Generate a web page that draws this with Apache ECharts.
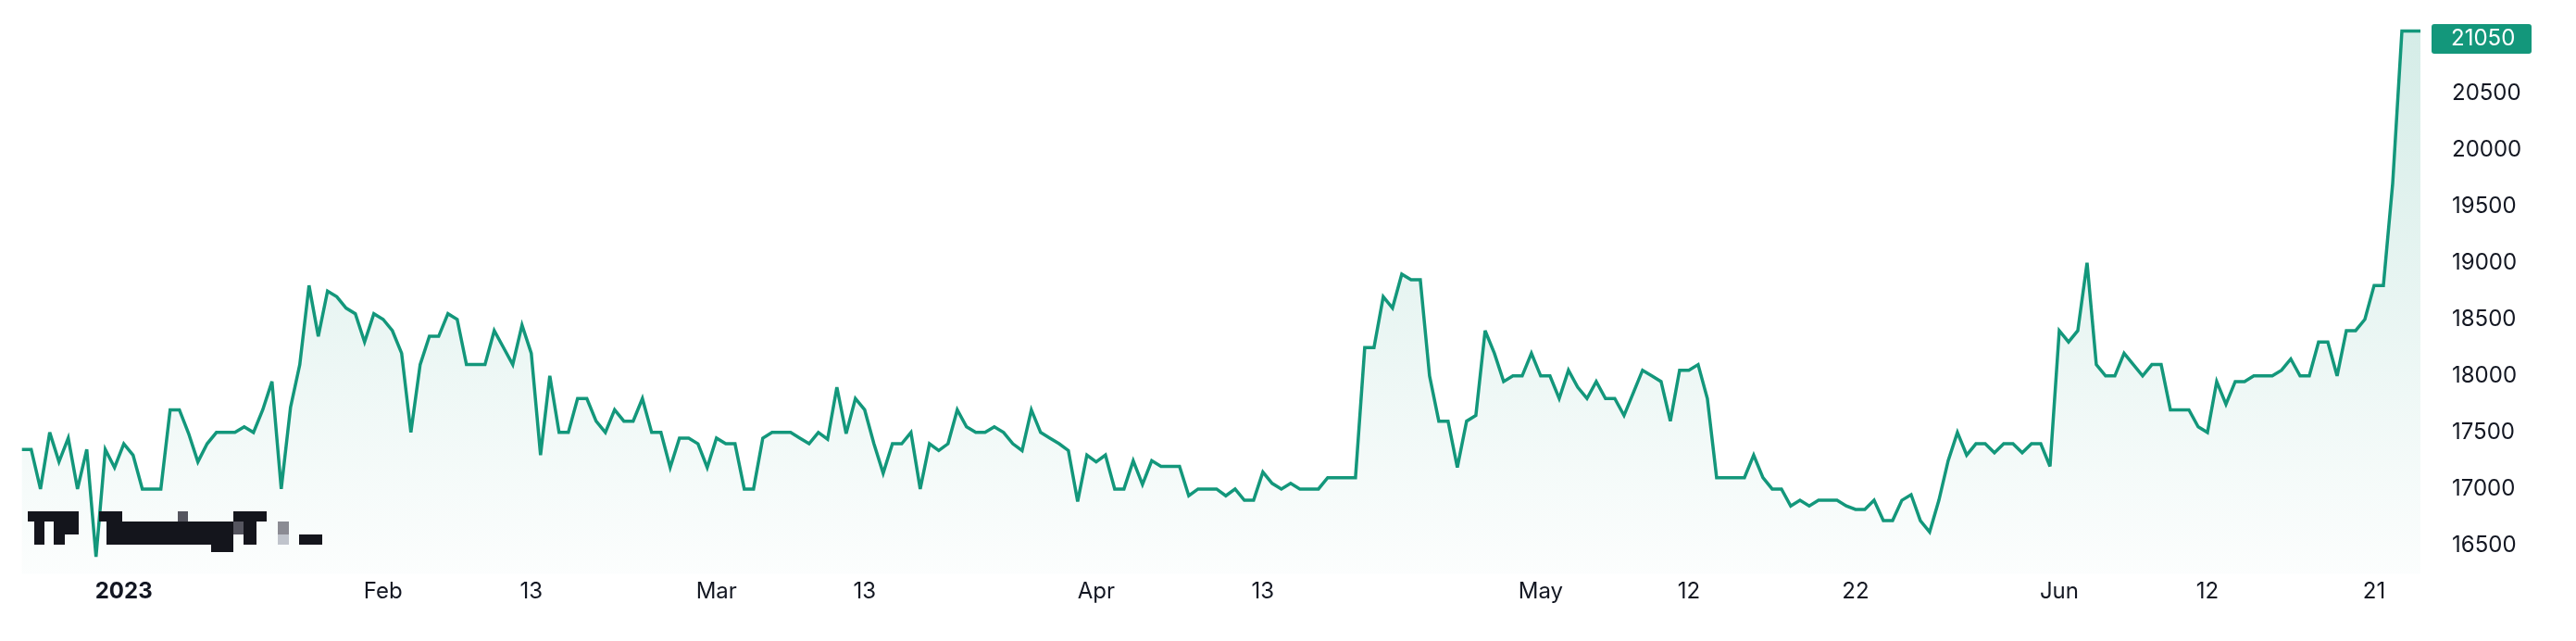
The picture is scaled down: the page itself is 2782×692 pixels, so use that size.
<!DOCTYPE html>
<html><head><meta charset="utf-8">
<script src="https://cdn.jsdelivr.net/npm/echarts@6/dist/echarts.min.js"></script>
<style>html,body{margin:0;padding:0;background:#fff;overflow:hidden}#c{width:2782px;height:692px}</style>
</head><body><div id="c"></div>
<script>
const values = [
17350,17350,17000,17500,17240,17450,17000,17350,16400,17350,
17190,17400,17300,17000,17000,17000,17700,17700,17490,17240,
17400,17500,17500,17500,17550,17500,17700,17950,17000,17720,
18100,18800,18350,18750,18700,18600,18550,18300,18550,18500,
18400,18200,17500,18100,18350,18350,18550,18500,18100,18100,
18100,18400,18250,18100,18450,18200,17300,18000,17500,17500,
17800,17800,17600,17500,17700,17600,17600,17800,17500,17500,
17190,17450,17450,17400,17190,17450,17400,17400,17000,17000,
17450,17500,17500,17500,17450,17400,17500,17440,17900,17490,
17800,17700,17400,17140,17400,17400,17500,17000,17400,17340,
17400,17700,17550,17500,17500,17550,17500,17400,17340,17700,
17500,17450,17400,17340,16890,17300,17240,17300,17000,17000,
17250,17040,17250,17200,17200,17200,16940,17000,17000,17000,
16940,17000,16900,16900,17150,17050,17000,17050,17000,17000,
17000,17100,17100,17100,17100,18250,18250,18700,18600,18900,
18850,18850,18000,17600,17600,17190,17600,17650,18400,18200,
17950,18000,18000,18200,18000,18000,17800,18050,17900,17800,
17950,17800,17800,17650,17850,18050,18000,17950,17600,18050,
18050,18100,17800,17100,17100,17100,17100,17300,17100,17000,
17000,16850,16900,16850,16900,16900,16900,16850,16820,16820,
16900,16720,16720,16900,16950,16720,16620,16900,17250,17500,
17300,17400,17400,17320,17400,17400,17320,17400,17400,17200,
18400,18300,18400,19000,18100,18000,18000,18200,18100,18000,
18100,18100,17700,17700,17700,17550,17500,17950,17750,17950,
17950,18000,18000,18000,18050,18150,18000,18000,18300,18300,
18000,18400,18400,18500,18800,18800,19700,21050,21050,21050
];
const categories = values.map((_, i) => 'p' + i);
const tickIndex  = [11, 39, 55, 75, 91, 116, 134, 164, 180, 198, 220, 236, 254];
const tickLabels = ['2023','Feb','13','Mar','13','Apr','13','May','12','22','Jun','12','21'];
const yMin = 16000, yMax = 21250, yStep = 500;
const hiddenY = [16000, 21000];
const areaBase = 16250;

const lastValue = values[values.length - 1];
const green = '#13977b';
const font = 'Inter, "Noto Sans", sans-serif';

const chart = echarts.init(document.getElementById('c'), null, {renderer: 'canvas'});

const D = '#14151c', G1 = '#55555f', G2 = '#8b8b93', G3 = '#c0c4cc';
const wm = [
  [30,552,28,11,D],[37,563,11,25,D],
  [58,552,27,11,D],[58,563,12,25,D],[70,563,15,14,D],
  [107,552,25,11,D],[115,563,17,25,D],[132,563,120,25,D],
  [192,552,11,11,G1],[228,588,24,8,D],
  [252,552,11,11,D],[252,563,11,14,G1],
  [263,552,14,36,D],[277,552,11,11,D],
  [300,563,12,14,G2],[300,577,12,11,G3],
  [323,577,25,11,D]
];

chart.setOption({
  animation: false,
  backgroundColor: '#ffffff',
  grid: {left: 23.7, right: 168, top: 9, bottom: 42, containLabel: false},
  xAxis: {
    type: 'category',
    data: categories,
    boundaryGap: false,
    offset: -31,
    axisLine: {show: false},
    axisTick: {show: false},
    splitLine: {show: false},
    axisLabel: {
      margin: 8,
      fontFamily: font,
      fontSize: 24,
      color: '#131722',
      interval: (i) => tickIndex.indexOf(i) >= 0,
      formatter: (v, i) => {
        const k = tickIndex.indexOf(i);
        if (k < 0) return '';
        const t = tickLabels[k];
        return /^\d{4}$/.test(t) ? '{b|' + t + '}' : t;
      },
      rich: {b: {fontWeight: 'bold', fontSize: 24, fontFamily: font, color: '#131722'}}
    }
  },
  yAxis: {
    type: 'value',
    position: 'right',
    min: yMin, max: yMax, interval: yStep,
    axisLine: {show: false},
    axisTick: {show: false},
    splitLine: {show: false},
    axisLabel: {
      margin: 34,
      fontFamily: font,
      fontSize: 24,
      color: '#131722',
      showMaxLabel: false,
      formatter: (v) => hiddenY.indexOf(v) >= 0 ? '' : String(v)
    }
  },
  series: [{
    type: 'line',
    data: values,
    symbol: 'none',
    lineStyle: {color: green, width: 3.5, join: 'miter', miterLimit: 4},
    areaStyle: {
      origin: areaBase,
      color: new echarts.graphic.LinearGradient(0, 26, 0, 620, [
        {offset: 0, color: 'rgba(19,151,123,0.26)'},
        {offset: 0.7, color: 'rgba(19,151,123,0.09)'},
        {offset: 1, color: 'rgba(19,151,123,0.02)'}
      ], true)
    }
  }],
  graphic: [
    {type: 'rect', shape: {x: 2626, y: 26, width: 108, height: 32, r: 3}, style: {fill: green}, z: 100},
    {type: 'text', x: 2647, y: 42, style: {text: String(lastValue), fill: '#ffffff', font: '24px ' + font, verticalAlign: 'middle'}, z: 101}
  ].concat(wm.map(r => ({type: 'rect', shape: {x: r[0], y: r[1], width: r[2], height: r[3]}, style: {fill: r[4]}, z: 50})))
});
</script>
</body></html>
